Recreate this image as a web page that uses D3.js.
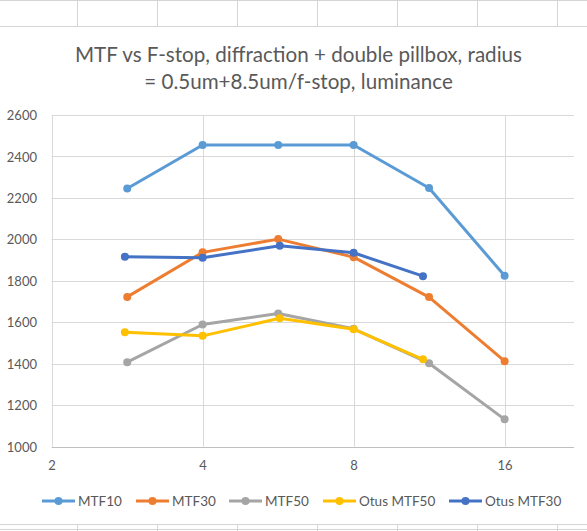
<!DOCTYPE html>
<html><head><meta charset="utf-8">
<script src="https://cdn.jsdelivr.net/npm/d3@7"></script>
<style>html,body{margin:0;padding:0;background:#fff;}svg{display:block;font-family:Lato, "Open Sans", sans-serif;}</style>
</head><body>
<svg id="c" width="587" height="531"></svg>
<script>
const titleLines = ["MTF vs F-stop, diffraction + double pillbox, radius", "= 0.5um+8.5um/f-stop, luminance"];
const fstopsMTF = [2.83, 4, 5.66, 8, 11.31, 16];
const fstopsOtus = [2.8, 4, 5.7, 8, 11];
const mtf10 = [2245, 2455, 2455, 2455, 2248, 1824];
const mtf30 = [1722, 1937, 2001, 1914, 1721, 1412];
const mtf50 = [1407, 1589, 1642, 1568, 1402, 1131];
const otusMtf50 = [1552, 1534, 1619, 1566, 1421];
const otusMtf30 = [1916, 1911, 1969, 1935, 1822];
const xTicks = [2, 4, 8, 16];
const yTicks = [1000, 1200, 1400, 1600, 1800, 2000, 2200, 2400, 2600];
const seriesNames = ["MTF10", "MTF30", "MTF50", "Otus MTF50", "Otus MTF30"];
const seriesColors = ["#5B9BD5", "#ED7D31", "#A5A5A5", "#FFC000", "#4472C4"];

const series = [
  {name: seriesNames[0], color: seriesColors[0], xs: fstopsMTF, ys: mtf10},
  {name: seriesNames[1], color: seriesColors[1], xs: fstopsMTF, ys: mtf30},
  {name: seriesNames[2], color: seriesColors[2], xs: fstopsMTF, ys: mtf50},
  {name: seriesNames[3], color: seriesColors[3], xs: fstopsOtus, ys: otusMtf50},
  {name: seriesNames[4], color: seriesColors[4], xs: fstopsOtus, ys: otusMtf30}
];

const svg = d3.select("#c");
const W = 587, H = 531;

// spreadsheet cell grid behind the chart
const cellG = svg.append("g").attr("stroke", "#d4d4d4").attr("stroke-width", 1);
const colXs = d3.range(77.5, W, 80);
cellG.append("line").attr("x1", 0).attr("x2", W).attr("y1", 0.5).attr("y2", 0.5);
cellG.append("line").attr("x1", 0).attr("x2", W).attr("y1", 26.5).attr("y2", 26.5);
cellG.selectAll(".ct").data(colXs).join("line").attr("x1", d => d).attr("x2", d => d).attr("y1", 0).attr("y2", 26);
cellG.append("line").attr("x1", 0).attr("x2", W).attr("y1", 524.5).attr("y2", 524.5);
cellG.append("line").attr("x1", 0).attr("x2", W).attr("y1", 529.5).attr("y2", 529.5);
cellG.selectAll(".cb").data(colXs).join("line").attr("x1", d => d).attr("x2", d => d).attr("y1", 525).attr("y2", H);

const plot = {left: 51.6, right: 574, top: 115, bottom: 446.5};
const x = d3.scaleLog().base(2).domain([2, 22]).range([plot.left, plot.right]);
const y = d3.scaleLinear().domain([1000, 2600]).range([plot.bottom, plot.top]);

// horizontal gridlines
svg.append("g").selectAll("line").data(yTicks.filter(d => d > 1000)).join("line")
  .attr("x1", plot.left).attr("x2", plot.right)
  .attr("y1", d => Math.round(y(d)) + 0.5).attr("y2", d => Math.round(y(d)) + 0.5)
  .attr("stroke", "#d9d9d9").attr("stroke-width", 1);
// vertical gridlines
svg.append("g").selectAll("line").data(xTicks).join("line")
  .attr("x1", d => Math.round(x(d)) + 0.5).attr("x2", d => Math.round(x(d)) + 0.5)
  .attr("y1", plot.top).attr("y2", plot.bottom)
  .attr("stroke", "#d9d9d9").attr("stroke-width", 1);
// bottom axis line
svg.append("line").attr("x1", plot.left).attr("x2", plot.right)
  .attr("y1", Math.round(y(1000)) + 0.5).attr("y2", Math.round(y(1000)) + 0.5)
  .attr("stroke", "#bfbfbf").attr("stroke-width", 1);

// axes labels using d3 axes
const yAxis = d3.axisLeft(y).tickValues(yTicks).tickSize(0).tickPadding(0).tickFormat(d3.format("d"));
const gy = svg.append("g").attr("transform", "translate(37,0)").call(yAxis);
gy.select(".domain").remove();
gy.selectAll("text").attr("fill", "#595959").style("font-size", "13px").style("font-family", "Lato, sans-serif").attr("dy", "0.35em");

const xAxis = d3.axisBottom(x).tickValues(xTicks).tickSize(0).tickPadding(0).tickFormat(d3.format("d"));
const gx = svg.append("g").attr("transform", "translate(0,461)").call(xAxis);
gx.select(".domain").remove();
gx.selectAll("text").attr("fill", "#595959").style("font-size", "13px").style("font-family", "Lato, sans-serif").attr("dy", "0.71em");

// series
const line = d3.line().x(d => x(d[0])).y(d => y(d[1]));
series.forEach(s => {
  const pts = s.xs.map((xv, i) => [xv, s.ys[i]]);
  svg.append("path").datum(pts).attr("d", line).attr("fill", "none")
    .attr("stroke", s.color).attr("stroke-width", 3).attr("stroke-linejoin", "round").attr("stroke-linecap", "round");
  svg.append("g").selectAll("circle").data(pts).join("circle")
    .attr("cx", d => x(d[0])).attr("cy", d => y(d[1])).attr("r", 4).attr("fill", s.color);
});

// title
const title = svg.append("text").attr("text-anchor", "middle").attr("fill", "#595959")
  .style("font-size", "20.6px").style("font-family", "Lato, sans-serif");
titleLines.forEach((t, i) => title.append("tspan").attr("x", 298.5).attr("y", 62 + i * 27).text(t));

// legend
const legendX = [42, 136, 229, 323, 449];
const lg = svg.append("g");
series.forEach((s, i) => {
  const g = lg.append("g").attr("transform", `translate(${legendX[i]},501)`);
  g.append("line").attr("x1", 0).attr("x2", 33).attr("y1", 0).attr("y2", 0).attr("stroke", s.color).attr("stroke-width", 3);
  g.append("circle").attr("cx", 16.5).attr("cy", 0).attr("r", 4).attr("fill", s.color);
  g.append("text").attr("x", 36).attr("y", 0).attr("dy", "0.35em").attr("fill", "#595959")
    .style("font-size", "13.5px").style("font-family", "Lato, sans-serif").text(s.name);
});
</script>
</body></html>
